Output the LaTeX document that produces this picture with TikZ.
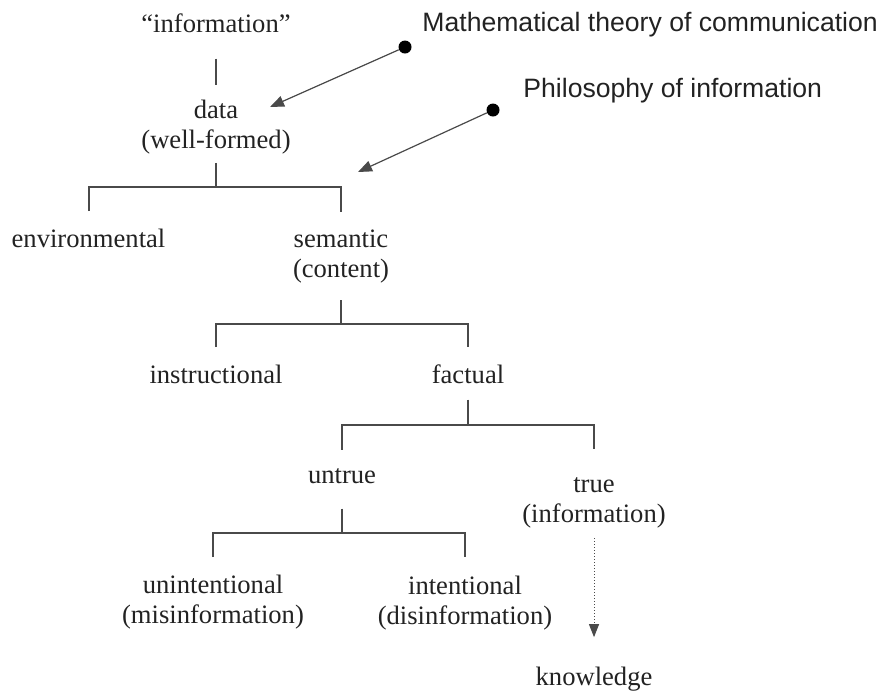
\documentclass[tikz,border=0pt]{standalone}
\usepackage{fontspec}
\setmainfont{Liberation Serif}
\setsansfont{Liberation Sans}
\usetikzlibrary{arrows.meta}
\definecolor{linegray}{HTML}{4A4A4A}
\definecolor{textgray}{HTML}{222222}

\begin{document}
\begin{tikzpicture}[x=0.5pt, y=-0.5pt,
    lbl/.style={inner sep=0pt, text=textgray, font=\fontsize{13.3}{15}\selectfont, anchor=base},
    twoline/.style={lbl, align=center, anchor=north},
    src/.style={inner sep=0pt, text=textgray, font=\sffamily\fontsize{13.3}{15}\selectfont, anchor=base west},
    tree/.style={draw=linegray, line width=1pt},
    pointer/.style={draw=linegray, line width=0.6pt, -{Triangle[length=7pt, width=5.5pt]}},
    dotnode/.style={circle, fill=black, inner sep=0pt, minimum size=6.5pt}]
  \useasboundingbox (0,0) rectangle (882,693);

  % 分类树的各个结点
  \node[lbl] (info) at (216,32) {``information''};
  \node[twoline] (data) at (216,100) {data\\(well-formed)};
  \node[lbl] (env) at (88.5,247) {environmental};
  \node[twoline] (sem) at (341,229) {semantic\\(content)};
  \node[lbl] (instr) at (216,383) {instructional};
  \node[lbl] (fact) at (468,383) {factual};
  \node[lbl] (untrue) at (342,483) {untrue};
  \node[twoline] (true) at (594,477) {true\\(information)};
  \node[twoline] (unint) at (213,575) {unintentional\\(misinformation)};
  \node[twoline] (int) at (465,576) {intentional\\(disinformation)};
  \node[lbl] (know) at (594,685) {knowledge};

  % 分叉点
  \coordinate (j1) at (216,187);
  \coordinate (j2) at (341,324);
  \coordinate (j3) at (468,425);
  \coordinate (j4) at (342,533);

  % 树的连线
  \draw[tree, shorten <=13pt, shorten >=7.5pt] (info) -- (data);
  \draw[tree, shorten <=4pt] (data) -- (j1);
  \draw[tree, shorten <=8.5pt, shorten >=8.5pt] (env) |- (j1) -| (sem);
  \draw[tree, shorten <=8.5pt] (sem) -- (j2);
  \draw[tree, shorten <=8.5pt, shorten >=8.5pt] (instr) |- (j2) -| (fact);
  \draw[tree, shorten <=8pt] (fact) -- (j3);
  \draw[tree, shorten <=9pt, shorten >=14pt] (untrue) |- (j3) -| (true);
  \draw[tree, shorten <=12.5pt] (untrue) -- (j4);
  \draw[tree, shorten <=9pt, shorten >=9.5pt] (unint) |- (j4) -| (int);

  % true 到 knowledge 的虚线箭头
  \draw[draw=linegray, line width=0.5pt, densely dotted, -{Triangle[length=6.5pt, width=5pt]},
        shorten <=5pt, shorten >=14.5pt] (true) -- (know);

  % 两个学科的标注
  \node[src] (mtc) at (422,31) {Mathematical theory of communication};
  \node[src] (phil) at (523,97) {Philosophy of information};
  \node[dotnode] (mtcDot) at (405,47) {};
  \node[dotnode] (philDot) at (493,110) {};
  \coordinate (mtcTip) at (270,107);
  \coordinate (philTip) at (358,172);
  \draw[pointer] (mtcDot) -- (mtcTip);
  \draw[pointer] (philDot) -- (philTip);
\end{tikzpicture}
\end{document}
